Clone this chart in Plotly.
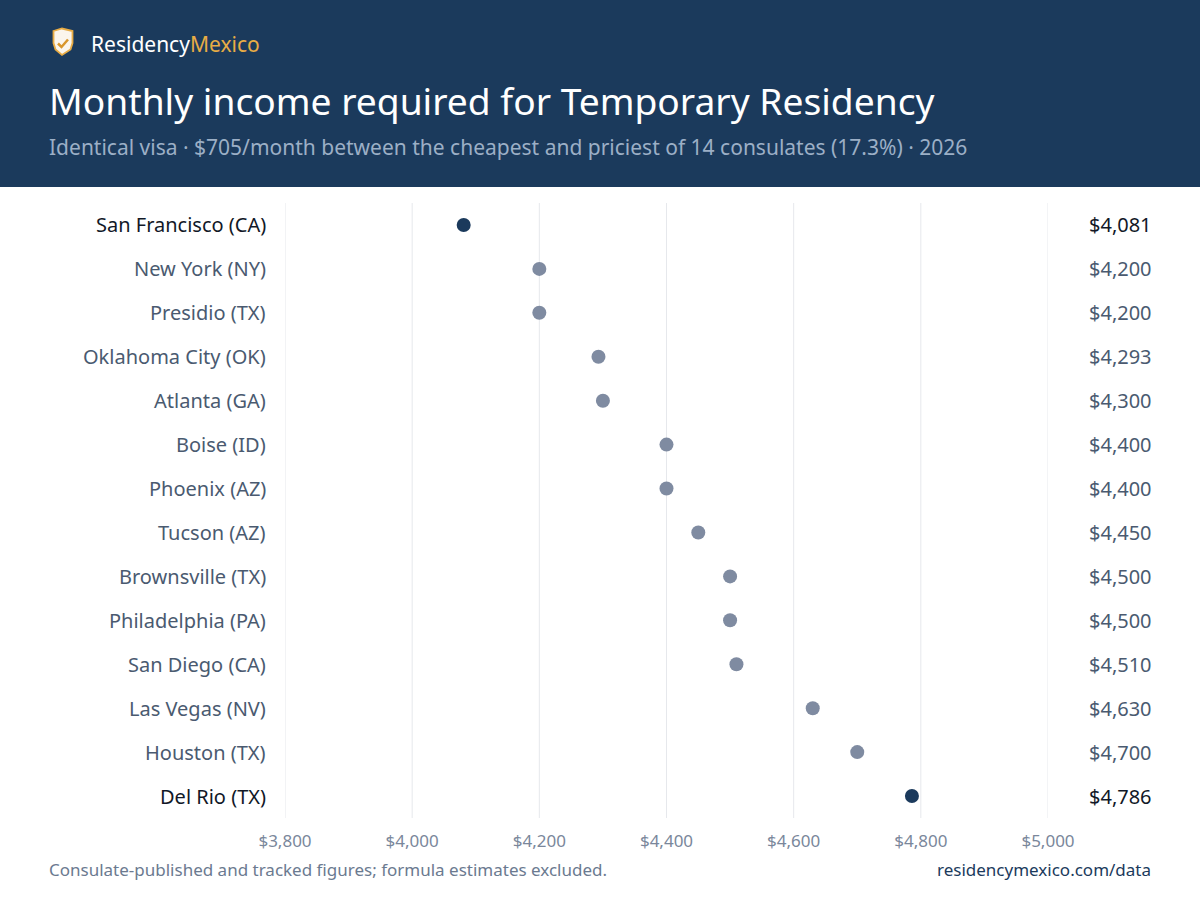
import plotly.graph_objects as go

# consulate data, cheapest first
cities = ['San Francisco (CA)', 'New York (NY)', 'Presidio (TX)', 'Oklahoma City (OK)',
          'Atlanta (GA)', 'Boise (ID)', 'Phoenix (AZ)', 'Tucson (AZ)', 'Brownsville (TX)',
          'Philadelphia (PA)', 'San Diego (CA)', 'Las Vegas (NV)', 'Houston (TX)', 'Del Rio (TX)']
income = [4081, 4200, 4200, 4293, 4300, 4400, 4400, 4450, 4500, 4500, 4510, 4630, 4700, 4786]
x_ticks = [3800, 4000, 4200, 4400, 4600, 4800, 5000]

W, H = 1200, 906
L, R, T, B = 285, 152, 203, 88
PW, PH = W - L - R, H - T - B

NAVY = '#1b3a5c'
GREY_DOT = '#7f8ba1'
GREY_TXT = '#4a5a70'
DARK_TXT = '#111827'
GRID = '#e6e8ec'

def px_x(px):
    return (px - L) / PW

def px_y(py):
    return (H - B - py) / PH

extremes = {min(income), max(income)}
dot_colors = [NAVY if v in extremes else GREY_DOT for v in income]
txt_colors = [DARK_TXT if v in extremes else GREY_TXT for v in income]

fig = go.Figure()
fig.add_trace(go.Scatter(
    x=income, y=cities, mode='markers',
    marker=dict(size=14, color=dot_colors, line=dict(width=0)),
    hovertemplate='%{y}: $%{x:,}<extra></extra>',
))

annotations = []
for c, v, col in zip(cities, income, txt_colors):
    annotations.append(dict(x=px_x(268), y=c, xref='paper', yref='y', text=c,
                            xanchor='right', yanchor='middle', showarrow=False,
                            font=dict(size=20, color=col)))
    annotations.append(dict(x=px_x(1154), y=c, xref='paper', yref='y', text=f'${v:,}',
                            xanchor='right', yanchor='middle', showarrow=False,
                            font=dict(size=20, color=col)))

# header texts
annotations += [
    dict(x=px_x(89), y=px_y(44), xref='paper', yref='paper', xanchor='left', yanchor='middle',
         text="<span style='color:#ffffff'>Residency</span><span style='color:#e8ac45'>Mexico</span>",
         showarrow=False, font=dict(size=21)),
    dict(x=px_x(47), y=px_y(100), xref='paper', yref='paper', xanchor='left', yanchor='middle',
         text='Monthly income required for Temporary Residency', showarrow=False,
         font=dict(size=37.2, color='#ffffff')),
    dict(x=px_x(47), y=px_y(147), xref='paper', yref='paper', xanchor='left', yanchor='middle',
         text='Identical visa · $705/month between the cheapest and priciest of 14 consulates (17.3%) · 2026',
         showarrow=False, font=dict(size=21, color='#9cafc6')),
    dict(x=px_x(47), y=px_y(869), xref='paper', yref='paper', xanchor='left', yanchor='middle',
         text='Consulate-published and tracked figures; formula estimates excluded.',
         showarrow=False, font=dict(size=17, color='#6b7a90')),
    dict(x=px_x(1153), y=px_y(869), xref='paper', yref='paper', xanchor='right', yanchor='middle',
         text='residencymexico.com/data', showarrow=False, font=dict(size=17, color=NAVY)),
]

shapes = [
    # header band
    dict(type='rect', xref='paper', yref='paper', x0=px_x(0), x1=px_x(W), y0=px_y(187), y1=px_y(0),
         fillcolor=NAVY, line=dict(width=0), layer='below'),
]

# vertical gridlines (drawn as shapes so the edge ones show too)
for t in x_ticks:
    shapes.append(dict(type='line', xref='x', yref='paper', x0=t, x1=t, y0=0, y1=1,
                       line=dict(color=GRID, width=1), layer='below'))

# shield logo
def path(points):
    return 'M ' + ' L '.join(f'{px_x(a):.5f},{px_y(b):.5f}' for a, b in points)

shield = [(53.5, 31), (62, 28.5), (72.5, 31), (72.5, 43), (70.5, 49.5), (62, 55),
          (55.5, 49.5), (53.5, 43)]
shapes.append(dict(type='path', xref='paper', yref='paper', path=path(shield) + ' Z',
                   fillcolor='#fbf5ec', line=dict(color='#e8ac45', width=1.8)))
check = [(58, 43.5), (61.5, 47), (68, 39.5)]
shapes.append(dict(type='path', xref='paper', yref='paper', path=path(check),
                   line=dict(color='#d9962b', width=2.5)))

fig.update_layout(
    width=W, height=H,
    margin=dict(l=L, r=R, t=T, b=B),
    paper_bgcolor='#ffffff', plot_bgcolor='#ffffff',
    font=dict(family='Noto Sans, Open Sans, sans-serif'),
    showlegend=False,
    annotations=annotations,
    shapes=shapes,
    xaxis=dict(range=[3800, 5000], tickvals=x_ticks,
               ticktext=[f'${t:,}' for t in x_ticks],
               showgrid=False, zeroline=False,
               showline=False, ticks='', tickfont=dict(size=17, color='#7a879b'),
               ticklabelstandoff=11),
    yaxis=dict(categoryorder='array', categoryarray=cities,
               range=[13.5, -0.5], showticklabels=False, showgrid=False,
               zeroline=False, showline=False, ticks=''),
)

fig.write_html('out.html', config={'displayModeBar': False},
               post_script="document.body.style.margin='0';")
